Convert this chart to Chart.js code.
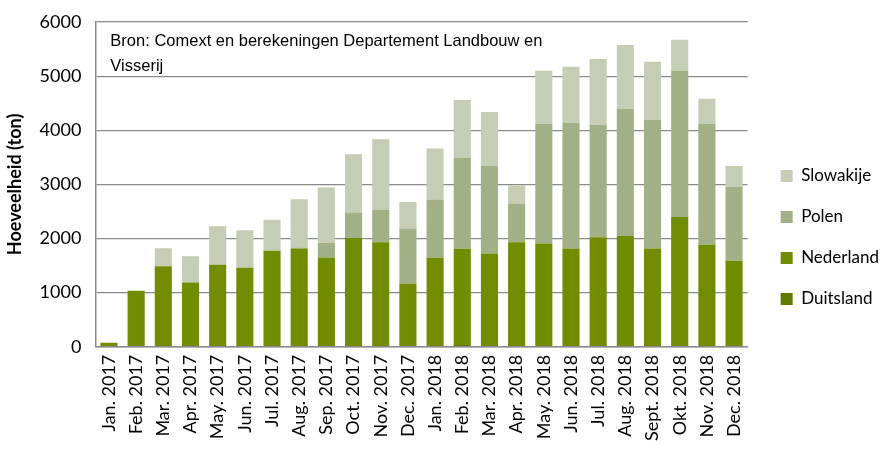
<!DOCTYPE html>
<html>
<head>
<meta charset="utf-8">
<script src="https://cdn.jsdelivr.net/npm/chart.js@4.4.0/dist/chart.umd.min.js"></script>
<style>
  html, body { margin: 0; padding: 0; background: #fff; }
  #wrap { width: 885px; height: 459px; }
</style>
</head>
<body>
<div id="wrap"><canvas id="chart" width="885" height="459"></canvas></div>
<script>
const months = ["Jan. 2017", "Feb. 2017", "Mar. 2017", "Apr. 2017", "May. 2017", "Jun. 2017",
    "Jul. 2017", "Aug. 2017", "Sep. 2017", "Oct. 2017", "Nov. 2017", "Dec. 2017",
    "Jan. 2018", "Feb. 2018", "Mar. 2018", "Apr. 2018", "May. 2018", "Jun. 2018",
    "Jul. 2018", "Aug. 2018", "Sept. 2018", "Okt. 2018", "Nov. 2018", "Dec. 2018"];

const duitsland = [0, 0, 0, 0, 0, 0, 0, 0, 0, 0, 0, 0,
    0, 30, 0, 0, 0, 0, 0, 0, 0, 0, 0, 0];
const nederland = [74, 1034, 1489, 1188, 1514, 1458, 1772, 1815, 1649, 2012, 1932, 1163,
    1643, 1779, 1723, 1932, 1908, 1815, 2025, 2049, 1815, 2400, 1883, 1588];
const polen = [0, 0, 0, 0, 0, 0, 0, 20, 271, 468, 597, 1022,
    1077, 1680, 1619, 714, 2209, 2320, 2073, 2345, 2376, 2695, 2234, 1366];
const slowakije = [0, 0, 333, 486, 714, 696, 573, 892, 1022, 1077, 1305, 492,
    942, 1071, 996, 332, 985, 1040, 1219, 1181, 1077, 579, 468, 388];

const yTicks = [0, 1000, 2000, 3000, 4000, 5000, 6000];
const sourceLines = ["Bron: Comext en berekeningen Departement Landbouw en", "Visserij"];

const gridGray = "#8a8a8a";

// source note in the top-left corner of the plot
const sourceNote = {
    id: "sourceNote",
    afterDraw(chart) {
        const c = chart.ctx;
        const area = chart.chartArea;
        c.save();
        c.fillStyle = "#000";
        c.font = "16.5px 'Liberation Sans', Arial, sans-serif";
        c.textBaseline = "alphabetic";
        sourceLines.forEach((line, i) => {
            c.fillText(line, area.left + 15, area.top + 24 + i * 25);
        });
        c.restore();
    }
};

// push the legend a bit further from the plot and lower
const legendShift = {
    id: "legendShift",
    afterLayout(chart) {
        const lg = chart.legend;
        lg.left += 9;
        lg.right += 9;
        lg.top += 13;
        lg.bottom += 13;
    }
};

new Chart(document.getElementById("chart"), {
    type: "bar",
    data: {
        labels: months,
        datasets: [
            { label: "Duitsland", data: duitsland, backgroundColor: "#5e7a00" },
            { label: "Nederland", data: nederland, backgroundColor: "#718c00" },
            { label: "Polen", data: polen, backgroundColor: "#a1b087" },
            { label: "Slowakije", data: slowakije, backgroundColor: "#c5cdb4" }
        ]
    },
    options: {
        responsive: false,
        animation: false,
        layout: { padding: { top: 0, left: 4, right: 5, bottom: 10 } },
        datasets: {
            bar: { categoryPercentage: 1, barPercentage: 0.63, borderWidth: 0 }
        },
        scales: {
            x: {
                stacked: true,
                grid: { display: false, drawTicks: false },
                border: { color: gridGray, width: 1.5 },
                ticks: {
                    color: "#000",
                    font: { family: "Lato", size: 18 },
                    minRotation: 90,
                    maxRotation: 90,
                    padding: 8,
                    autoSkip: false
                }
            },
            y: {
                stacked: true,
                min: 0,
                max: 6000,
                afterBuildTicks(axis) { axis.ticks = yTicks.map(v => ({ value: v })); },
                grid: { color: gridGray, lineWidth: 1.3, drawTicks: false },
                border: { color: gridGray, width: 1.5 },
                ticks: {
                    color: "#000",
                    font: { family: "Lato", size: 18, lineHeight: 0.9 },
                    padding: 14,
                    callback: v => String(v)
                },
                title: {
                    display: true,
                    text: "Hoeveelheid (ton)",
                    color: "#000",
                    font: { family: "Lato", size: 18, weight: "bold" },
                    padding: { top: 0, bottom: 0 }
                }
            }
        },
        plugins: {
            legend: {
                position: "right",
                reverse: true,
                labels: {
                    color: "#000",
                    boxWidth: 12,
                    boxHeight: 12,
                    padding: 24,
                    font: { family: "Lato", size: 17 }
                }
            },
            tooltip: { enabled: false }
        }
    },
    plugins: [sourceNote, legendShift]
});
</script>
</body>
</html>
